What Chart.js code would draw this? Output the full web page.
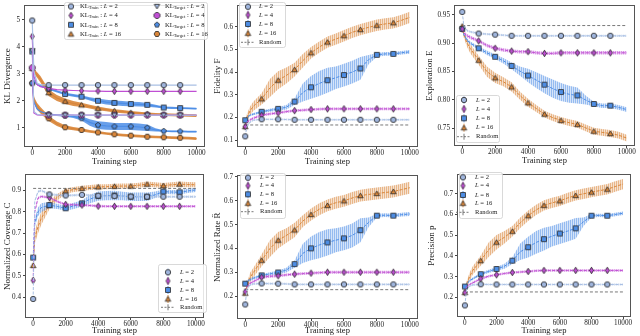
<!DOCTYPE html>
<html>
<head>
<meta charset="utf-8">
<script src="https://cdn.jsdelivr.net/npm/chart.js@4.4.1/dist/chart.umd.min.js"></script>
<style>
  html, body { margin: 0; padding: 0; background: #fff; }
  #wrap { position: relative; width: 640px; height: 336px; overflow: hidden; }
  canvas { position: absolute; }
</style>
</head>
<body>
<div id="wrap"></div>
<script>
const steps = [0, 100, 300, 500, 1000, 1500, 2000, 2500, 3000, 3500, 4000, 4500, 5000, 5500, 6000, 6500, 7000, 7500, 8000, 8500, 9000, 9500, 10000];
const xTicks = [0, 2000, 4000, 6000, 8000, 10000];
const randomSteps = [0, 10000];

// KL divergence
const klTrain2 = [4.97, 3.10, 2.65, 2.60, 2.58, 2.58, 2.58, 2.58, 2.58, 2.58, 2.58, 2.58, 2.58, 2.58, 2.58, 2.58, 2.58, 2.58, 2.58, 2.58, 2.58, 2.58, 2.58];
const klTrain4 = [4.38, 2.90, 2.60, 2.52, 2.46, 2.41, 2.39, 2.38, 2.37, 2.36, 2.36, 2.35, 2.35, 2.35, 2.35, 2.35, 2.35, 2.35, 2.35, 2.35, 2.35, 2.35, 2.35];
const klTrain8 = [3.82, 2.75, 2.60, 2.55, 2.45, 2.35, 2.25, 2.20, 2.15, 2.07, 2.00, 1.95, 1.92, 1.90, 1.88, 1.87, 1.85, 1.80, 1.75, 1.74, 1.73, 1.72, 1.71];
const klTrain16 = [3.20, 3.10, 2.95, 2.80, 2.30, 2.10, 1.98, 1.90, 1.85, 1.78, 1.72, 1.67, 1.63, 1.60, 1.57, 1.54, 1.52, 1.50, 1.49, 1.48, 1.47, 1.46, 1.45];
const klTarget2 = [3.85, 1.60, 1.50, 1.48, 1.47, 1.47, 1.47, 1.47, 1.47, 1.47, 1.47, 1.47, 1.47, 1.47, 1.47, 1.47, 1.47, 1.47, 1.47, 1.47, 1.47, 1.47, 1.47];
const klTarget4 = [3.22, 1.55, 1.48, 1.47, 1.47, 1.47, 1.47, 1.47, 1.47, 1.47, 1.47, 1.47, 1.47, 1.47, 1.47, 1.47, 1.47, 1.47, 1.47, 1.47, 1.47, 1.47, 1.47];
const klTarget8 = [2.65, 1.95, 1.70, 1.60, 1.50, 1.47, 1.45, 1.42, 1.35, 1.20, 1.10, 1.07, 1.05, 1.05, 1.05, 1.03, 1.00, 0.92, 0.88, 0.87, 0.87, 0.86, 0.86];
const klTarget16 = [2.65, 2.05, 1.80, 1.65, 1.35, 1.15, 1.02, 0.97, 0.92, 0.87, 0.83, 0.79, 0.76, 0.73, 0.71, 0.69, 0.67, 0.66, 0.65, 0.64, 0.63, 0.62, 0.60];
const klTrain8Err = [0.02, 0.03, 0.03, 0.03, 0.04, 0.04, 0.05, 0.05, 0.05, 0.06, 0.08, 0.09, 0.09, 0.09, 0.08, 0.08, 0.07, 0.05, 0.04, 0.04, 0.03, 0.03, 0.03];
const klTrain16Err = [0.05, 0.08, 0.10, 0.12, 0.12, 0.11, 0.10, 0.09, 0.08, 0.07, 0.07, 0.06, 0.06, 0.06, 0.05, 0.05, 0.05, 0.05, 0.05, 0.05, 0.05, 0.05, 0.05];
const klTarget8Err = [0.03, 0.04, 0.04, 0.03, 0.03, 0.03, 0.04, 0.06, 0.08, 0.12, 0.14, 0.14, 0.13, 0.13, 0.13, 0.13, 0.12, 0.06, 0.03, 0.03, 0.03, 0.03, 0.03];
const klTarget16Err = [0.05, 0.10, 0.12, 0.12, 0.10, 0.08, 0.07, 0.06, 0.06, 0.05, 0.05, 0.05, 0.05, 0.05, 0.05, 0.05, 0.05, 0.05, 0.05, 0.05, 0.05, 0.05, 0.05];

// Fidelity F
const fid2 = [0.117, 0.160, 0.180, 0.188, 0.192, 0.192, 0.192, 0.191, 0.190, 0.190, 0.190, 0.190, 0.190, 0.190, 0.190, 0.190, 0.190, 0.190, 0.190, 0.190, 0.190, 0.190, 0.190];
const fid4 = [0.160, 0.180, 0.190, 0.197, 0.210, 0.216, 0.220, 0.226, 0.230, 0.232, 0.235, 0.237, 0.238, 0.238, 0.238, 0.238, 0.238, 0.238, 0.238, 0.238, 0.238, 0.238, 0.238];
const fid8 = [0.188, 0.200, 0.210, 0.215, 0.225, 0.232, 0.238, 0.245, 0.270, 0.310, 0.333, 0.350, 0.364, 0.375, 0.387, 0.400, 0.416, 0.455, 0.476, 0.480, 0.480, 0.485, 0.489];
const fid16 = [0.160, 0.200, 0.230, 0.250, 0.282, 0.330, 0.364, 0.385, 0.411, 0.450, 0.485, 0.510, 0.532, 0.545, 0.560, 0.575, 0.587, 0.597, 0.606, 0.612, 0.617, 0.628, 0.641];
const fid8Err = [0.005, 0.005, 0.005, 0.005, 0.006, 0.007, 0.008, 0.010, 0.015, 0.040, 0.050, 0.055, 0.055, 0.050, 0.050, 0.050, 0.050, 0.020, 0.008, 0.008, 0.008, 0.008, 0.008];
const fid16Err = [0.010, 0.015, 0.020, 0.020, 0.025, 0.040, 0.040, 0.035, 0.030, 0.030, 0.025, 0.025, 0.025, 0.025, 0.025, 0.025, 0.025, 0.025, 0.025, 0.025, 0.025, 0.025, 0.025];
const fidRandom = 0.167;

// Exploration E
const exp2 = [0.955, 0.930, 0.922, 0.920, 0.917, 0.916, 0.915, 0.914, 0.913, 0.913, 0.913, 0.913, 0.913, 0.913, 0.913, 0.913, 0.913, 0.913, 0.913, 0.913, 0.913, 0.913, 0.913];
const exp4 = [0.925, 0.918, 0.913, 0.910, 0.904, 0.896, 0.891, 0.888, 0.886, 0.885, 0.885, 0.883, 0.882, 0.882, 0.883, 0.883, 0.883, 0.883, 0.883, 0.883, 0.883, 0.883, 0.883];
const exp8 = [0.925, 0.915, 0.905, 0.900, 0.891, 0.883, 0.876, 0.869, 0.860, 0.851, 0.843, 0.835, 0.827, 0.820, 0.814, 0.810, 0.808, 0.800, 0.793, 0.790, 0.790, 0.787, 0.783];
const exp16 = [0.930, 0.915, 0.900, 0.890, 0.870, 0.850, 0.839, 0.832, 0.823, 0.808, 0.795, 0.785, 0.775, 0.769, 0.764, 0.760, 0.757, 0.751, 0.745, 0.743, 0.741, 0.738, 0.733];
const exp8Err = [0.002, 0.003, 0.003, 0.003, 0.003, 0.004, 0.004, 0.005, 0.006, 0.008, 0.012, 0.014, 0.015, 0.016, 0.016, 0.015, 0.014, 0.008, 0.004, 0.004, 0.004, 0.004, 0.004];
const exp16Err = [0.004, 0.006, 0.007, 0.008, 0.008, 0.009, 0.009, 0.008, 0.008, 0.007, 0.007, 0.006, 0.006, 0.006, 0.006, 0.006, 0.006, 0.006, 0.006, 0.006, 0.006, 0.006, 0.006];
const expRandom = 0.931;

// Normalized coverage C
const cov2 = [0.392, 0.850, 0.895, 0.900, 0.882, 0.879, 0.877, 0.878, 0.880, 0.878, 0.876, 0.875, 0.874, 0.873, 0.872, 0.872, 0.871, 0.871, 0.871, 0.871, 0.871, 0.871, 0.871];
const cov4 = [0.479, 0.800, 0.865, 0.872, 0.867, 0.848, 0.835, 0.833, 0.832, 0.830, 0.827, 0.826, 0.826, 0.826, 0.826, 0.826, 0.826, 0.826, 0.826, 0.826, 0.826, 0.826, 0.826];
const cov8 = [0.586, 0.750, 0.800, 0.820, 0.832, 0.825, 0.817, 0.828, 0.840, 0.860, 0.874, 0.876, 0.877, 0.874, 0.871, 0.871, 0.871, 0.880, 0.895, 0.893, 0.892, 0.898, 0.903];
const cov16 = [0.549, 0.680, 0.730, 0.770, 0.832, 0.870, 0.897, 0.905, 0.910, 0.914, 0.917, 0.918, 0.920, 0.921, 0.921, 0.925, 0.930, 0.927, 0.923, 0.927, 0.930, 0.928, 0.927];
const cov8Err = [0.010, 0.020, 0.020, 0.020, 0.015, 0.012, 0.012, 0.015, 0.015, 0.020, 0.022, 0.022, 0.022, 0.020, 0.020, 0.020, 0.020, 0.015, 0.010, 0.010, 0.010, 0.010, 0.010];
const cov16Err = [0.010, 0.030, 0.030, 0.030, 0.020, 0.015, 0.012, 0.012, 0.012, 0.012, 0.012, 0.012, 0.012, 0.012, 0.012, 0.012, 0.012, 0.012, 0.012, 0.012, 0.012, 0.012, 0.012];
const covRandom = 0.910;

// Normalized rate R
const rate2 = [0.166, 0.230, 0.248, 0.252, 0.254, 0.253, 0.253, 0.252, 0.250, 0.250, 0.250, 0.250, 0.250, 0.250, 0.250, 0.250, 0.250, 0.250, 0.250, 0.250, 0.250, 0.250, 0.250];
const rate4 = [0.219, 0.240, 0.255, 0.262, 0.280, 0.284, 0.286, 0.290, 0.293, 0.295, 0.297, 0.299, 0.301, 0.301, 0.301, 0.301, 0.301, 0.301, 0.301, 0.301, 0.301, 0.301, 0.301];
const rate8 = [0.253, 0.262, 0.270, 0.276, 0.288, 0.294, 0.300, 0.310, 0.335, 0.380, 0.401, 0.415, 0.426, 0.435, 0.443, 0.455, 0.477, 0.510, 0.538, 0.540, 0.538, 0.542, 0.545];
const rate16 = [0.213, 0.240, 0.280, 0.300, 0.351, 0.400, 0.435, 0.455, 0.478, 0.515, 0.543, 0.565, 0.581, 0.592, 0.600, 0.612, 0.622, 0.627, 0.631, 0.635, 0.639, 0.647, 0.655];
const rate8Err = [0.005, 0.006, 0.006, 0.006, 0.006, 0.007, 0.008, 0.010, 0.015, 0.040, 0.050, 0.055, 0.055, 0.050, 0.050, 0.050, 0.050, 0.020, 0.008, 0.008, 0.008, 0.008, 0.008];
const rate16Err = [0.010, 0.015, 0.020, 0.020, 0.025, 0.035, 0.035, 0.030, 0.030, 0.025, 0.025, 0.025, 0.025, 0.025, 0.025, 0.025, 0.025, 0.025, 0.025, 0.025, 0.025, 0.025, 0.025];
const rateRandom = 0.228;

// Precision p
const prec2 = [0.161, 0.235, 0.255, 0.260, 0.263, 0.262, 0.262, 0.262, 0.262, 0.262, 0.262, 0.262, 0.262, 0.262, 0.262, 0.262, 0.262, 0.262, 0.262, 0.262, 0.262, 0.262, 0.262];
const prec4 = [0.223, 0.250, 0.262, 0.270, 0.290, 0.302, 0.309, 0.315, 0.320, 0.322, 0.325, 0.328, 0.330, 0.330, 0.330, 0.330, 0.330, 0.330, 0.330, 0.330, 0.330, 0.330, 0.330];
const prec8 = [0.252, 0.265, 0.280, 0.290, 0.312, 0.325, 0.337, 0.350, 0.377, 0.420, 0.442, 0.465, 0.481, 0.495, 0.508, 0.520, 0.533, 0.565, 0.594, 0.596, 0.594, 0.600, 0.606];
const prec16 = [0.223, 0.260, 0.300, 0.330, 0.377, 0.430, 0.466, 0.490, 0.519, 0.560, 0.594, 0.622, 0.644, 0.656, 0.666, 0.680, 0.692, 0.700, 0.708, 0.715, 0.722, 0.735, 0.747];
const prec8Err = [0.005, 0.006, 0.006, 0.006, 0.007, 0.008, 0.009, 0.012, 0.016, 0.040, 0.050, 0.055, 0.055, 0.050, 0.050, 0.050, 0.050, 0.020, 0.008, 0.008, 0.008, 0.008, 0.008];
const prec16Err = [0.010, 0.015, 0.020, 0.020, 0.025, 0.035, 0.035, 0.030, 0.025, 0.025, 0.025, 0.025, 0.025, 0.025, 0.025, 0.025, 0.025, 0.025, 0.025, 0.025, 0.025, 0.025, 0.025];
const precRandom = 0.226;

const C2 = "#a9c0e4", C4 = "#c04fd4", C8 = "#4e8ee6", C16 = "#d9863a";
const EDGE = "#262626";
const FONT = '"Liberation Serif", "DejaVu Serif", serif';

function makeMarker(shape, fill, size) {
  const d = Math.ceil(size) + 4;
  const c = document.createElement("canvas");
  c.width = d; c.height = d;
  const g = c.getContext("2d");
  const m = d / 2, r = size / 2;
  g.beginPath();
  if (shape === "circle") {
    g.arc(m, m, r, 0, Math.PI * 2);
  } else if (shape === "square") {
    g.rect(m - r * 0.85, m - r * 0.85, r * 1.7, r * 1.7);
  } else if (shape === "tdiamond") {
    g.moveTo(m, m - r); g.lineTo(m + r * 0.6, m); g.lineTo(m, m + r); g.lineTo(m - r * 0.6, m); g.closePath();
  } else {
    const n = { triangle: 3, tridown: 3, pentagon: 5, hexagon: 6, octagon: 8 }[shape];
    const rot = { triangle: -Math.PI / 2, tridown: Math.PI / 2, pentagon: -Math.PI / 2, hexagon: 0, octagon: Math.PI / 8 }[shape];
    for (let k = 0; k < n; k++) {
      const a = rot + k * 2 * Math.PI / n;
      const px = m + r * Math.cos(a), py = m + r * Math.sin(a) + (n === 3 ? (shape === "triangle" ? r * 0.2 : -r * 0.2) : 0);
      if (k === 0) g.moveTo(px, py); else g.lineTo(px, py);
    }
    g.closePath();
  }
  g.fillStyle = fill;
  g.fill();
  g.lineWidth = 0.8;
  g.strokeStyle = EDGE;
  g.stroke();
  return c;
}

const M = {
  circle2: makeMarker("circle", "#9fb5dd", 5.4),
  diamond4: makeMarker("tdiamond", C4, 6.6),
  square8: makeMarker("square", C8, 5.8),
  tri16: makeMarker("triangle", C16, 6.4),
  tridown2: makeMarker("tridown", "#9fb5dd", 6.2),
  oct4: makeMarker("octagon", C4, 6.4),
  pent8: makeMarker("pentagon", C8, 5.4),
  hex16: makeMarker("hexagon", C16, 5.8)
};

function hatch(color, alpha) {
  const c = document.createElement("canvas");
  c.width = 2; c.height = 2;
  const g = c.getContext("2d");
  g.globalAlpha = alpha;
  g.fillStyle = color;
  g.fillRect(0, 0, 1, 2);
  g.globalAlpha = alpha * 0.4;
  g.fillRect(1, 0, 1, 2);
  return g.createPattern(c, "repeat");
}

function hexAlpha(hex, a) {
  const n = parseInt(hex.slice(1), 16);
  return `rgba(${(n >> 16) & 255},${(n >> 8) & 255},${n & 255},${a})`;
}

function isMarkerStep(ctx) {
  const s = steps[ctx.dataIndex];
  return s % 1000 === 0 && s < 10000;
}

function bandSets(vals, err, bg) {
  const e = (i) => (Array.isArray(err) ? err[i] : err);
  return [
    { data: steps.map((s, i) => ({ x: s, y: vals[i] + e(i) })), borderWidth: 0, pointRadius: 0, fill: "+1", backgroundColor: bg, order: 5 },
    { data: steps.map((s, i) => ({ x: s, y: vals[i] - e(i) })), borderWidth: 0, pointRadius: 0, fill: false, order: 5 }
  ];
}

function lineSet(vals, color, marker, dash, width) {
  return {
    data: steps.map((s, i) => ({ x: s, y: vals[i] })),
    borderColor: color,
    borderWidth: width,
    borderDash: dash,
    pointStyle: marker,
    pointRadius: (ctx) => (isMarkerStep(ctx) ? 3 : 0),
    fill: false,
    order: 1
  };
}

function randomSet(value) {
  return {
    data: randomSteps.map((s) => ({ x: s, y: value })),
    borderColor: "#6a6a6a", borderWidth: 0.9, borderDash: [3, 2],
    pointRadius: 0, fill: false, order: 2
  };
}

function textRun(ctx, x, y, parts) {
  for (const [kind, str] of parts) {
    if (kind === "sub") {
      ctx.font = `4.6px ${FONT}`;
      ctx.fillText(str, x, y + 1.6);
    } else {
      ctx.font = `${kind === "italic" ? "italic " : ""}6.6px ${FONT}`;
      ctx.fillText(str, x, y);
    }
    x += ctx.measureText(str).width;
  }
}

function drawLegend(ctx, lg, ox, oy) {
  const [bx, by, bw, bh] = lg.box;
  ctx.save();
  ctx.beginPath();
  ctx.roundRect(bx - ox + 0.5, by - oy + 0.5, bw, bh, 2);
  ctx.fillStyle = "rgba(255,255,255,0.85)";
  ctx.fill();
  ctx.strokeStyle = "#cfcfcf";
  ctx.lineWidth = 0.8;
  ctx.stroke();
  ctx.textBaseline = "middle";
  ctx.fillStyle = "#222";
  for (const item of lg.items) {
    const mx = item.mx - ox, y = item.y - oy;
    if (item.random) {
      ctx.strokeStyle = "#6a6a6a";
      ctx.lineWidth = 0.9;
      ctx.setLineDash([2, 1.5]);
      ctx.beginPath(); ctx.moveTo(mx - 7, y); ctx.lineTo(mx + 7, y); ctx.stroke();
      ctx.setLineDash([]);
      ctx.beginPath(); ctx.moveTo(mx, y - 3); ctx.lineTo(mx, y + 3); ctx.stroke();
    } else {
      if (item.bar) {
        ctx.strokeStyle = item.bar;
        ctx.lineWidth = 0.9;
        ctx.beginPath(); ctx.moveTo(mx, y - 4); ctx.lineTo(mx, y + 4); ctx.stroke();
      }
      ctx.drawImage(item.marker, mx - item.marker.width / 2, y - item.marker.height / 2);
    }
    ctx.fillStyle = "#222";
    textRun(ctx, item.tx - ox, y, item.text);
  }
  ctx.restore();
}

function overlay(key, legend, ox, oy) {
  return {
    id: "overlay_" + key,
    afterDraw(chart) {
      const a = chart.chartArea;
      const ctx = chart.ctx;
      ctx.save();
      ctx.strokeStyle = "#555";
      ctx.lineWidth = 1;
      ctx.strokeRect(Math.round(a.left) + 0.5, Math.round(a.top) + 0.5, Math.round(a.right - a.left) - 1, Math.round(a.bottom - a.top) - 1);
      ctx.restore();
      drawLegend(ctx, legend, ox, oy);
    }
  };
}

function lText(n) { return [["italic", "L"], ["normal", " = " + n]]; }
function klText(kind, n) { return [["normal", "KL"], ["sub", kind], ["normal", " : "], ["italic", "L"], ["normal", " = " + n]]; }

function stdLegend(box, mx, tx, rows) {
  const marks = [M.circle2, M.diamond4, M.square8, M.tri16];
  const bars = [C2, C4, C8, C16];
  const items = ["2", "4", "8", "16"].map((n, i) => ({ mx, tx, y: rows[i], marker: marks[i], bar: bars[i], text: lText(n) }));
  items.push({ mx, tx, y: rows[4], random: true, text: [["normal", "Random"]] });
  return { box, items };
}

const DASH = [3, 1.5];
const panels = [
  {
    key: "kl", area: [24, 1, 208, 147], left: 0, xh: 20, titleX: 8,
    title: "KL Divergence", yMin: 0.29, yMax: 5.53, yTicks: [1, 2, 3, 4, 5], dec: 0,
    datasets: [
      ...bandSets(klTrain16, klTrain16Err, hexAlpha(C16, 0.9)),
      ...bandSets(klTarget16, klTarget16Err, hexAlpha(C16, 0.9)),
      ...bandSets(klTrain8, klTrain8Err, hexAlpha(C8, 0.85)),
      ...bandSets(klTarget8, klTarget8Err, hexAlpha(C8, 0.85)),
      lineSet(klTrain2, C2, M.circle2, [], 1.2),
      lineSet(klTrain4, C4, M.diamond4, [], 1.2),
      lineSet(klTarget2, C2, M.tridown2, [], 1.2),
      lineSet(klTarget4, C4, M.oct4, [], 1.2),
      lineSet(klTrain8, C8, M.square8, [], 1.2),
      lineSet(klTarget8, C8, M.pent8, [], 1.2),
      lineSet(klTrain16, C16, M.tri16, [], 1.2),
      lineSet(klTarget16, C16, M.hex16, [], 1.2)
    ],
    legend: {
      box: [64, 2, 143, 37],
      items: [
        { mx: 71, tx: 80, y: 6.5, marker: M.circle2, text: klText("Train", "2") },
        { mx: 71, tx: 80, y: 15.5, marker: M.diamond4, text: klText("Train", "4") },
        { mx: 71, tx: 80, y: 24.8, marker: M.square8, text: klText("Train", "8") },
        { mx: 71, tx: 80, y: 34, marker: M.tri16, text: klText("Train", "16") },
        { mx: 157, tx: 165, y: 6.5, marker: M.tridown2, text: klText("Target", "2") },
        { mx: 157, tx: 165, y: 15.5, marker: M.oct4, text: klText("Target", "4") },
        { mx: 157, tx: 165, y: 24.8, marker: M.pent8, text: klText("Target", "8") },
        { mx: 157, tx: 165, y: 34, marker: M.hex16, text: klText("Target", "16") }
      ]
    }
  },
  {
    key: "fid", area: [237, 1, 421, 147], left: 212, xh: 20, titleX: 217.5,
    title: "Fidelity F", yMin: 0.07, yMax: 0.694, yTicks: [0.1, 0.2, 0.3, 0.4, 0.5, 0.6], dec: 1,
    random: fidRandom,
    series: [[fid2, 0.004], [fid4, 0.006], [fid8, fid8Err], [fid16, fid16Err]],
    legend: stdLegend([239, 2, 46, 45], 248, 259, [6.7, 15, 24, 33.3, 42.3])
  },
  {
    key: "exp", area: [454, 1, 638, 146], left: 425, xh: 20, titleX: 429.5,
    title: "Exploration E", yMin: 0.719, yMax: 0.9666, yTicks: [0.75, 0.80, 0.85, 0.90, 0.95], dec: 2,
    random: expRandom,
    series: [[exp2, 0.002], [exp4, 0.003], [exp8, exp8Err], [exp16, exp16Err]],
    legend: stdLegend([456, 95, 43, 47], 464, 476, [100, 109, 118.3, 127.7, 136.7])
  },
  {
    key: "cov", area: [25, 170, 207, 318], left: 0, xh: 18, titleX: 8,
    title: "Normalized Coverage C", yMin: 0.303, yMax: 0.976, yTicks: [0.4, 0.5, 0.6, 0.7, 0.8, 0.9], dec: 1,
    random: covRandom,
    series: [[cov2, 0.006], [cov4, 0.006], [cov8, cov8Err], [cov16, cov16Err]],
    legend: stdLegend([158, 264, 48, 48], 168, 180, [272.3, 281, 290, 299, 307.3])
  },
  {
    key: "rate", area: [237, 171, 421, 319], left: 212, xh: 17, titleX: 217.5,
    title: "Normalized Rate R\u0302", yMin: 0.105, yMax: 0.707, yTicks: [0.2, 0.3, 0.4, 0.5, 0.6, 0.7], dec: 1,
    random: rateRandom,
    series: [[rate2, 0.005], [rate4, 0.006], [rate8, rate8Err], [rate16, rate16Err]],
    legend: stdLegend([240, 173, 45, 45], 248, 260, [177.7, 185.7, 194.3, 203.3, 211.7])
  },
  {
    key: "prec", area: [457, 170, 634, 317], left: 426, xh: 19, titleX: 432,
    title: "Precision p", yMin: 0.105, yMax: 0.794, yTicks: [0.2, 0.3, 0.4, 0.5, 0.6, 0.7], dec: 1,
    random: precRandom,
    series: [[prec2, 0.005], [prec4, 0.006], [prec8, prec8Err], [prec16, prec16Err]],
    legend: stdLegend([459, 172, 43, 46], 463, 475, [177.3, 185.7, 195, 203.3, 212.3])
  }
];

function stdDatasets(p) {
  const colors = [C2, C4, C8, C16];
  const marks = [M.circle2, M.diamond4, M.square8, M.tri16];
  const sets = [];
  p.series.forEach(([vals, err], i) => sets.push(...bandSets(vals, err, hatch(colors[i], 0.6))));
  sets.push(randomSet(p.random));
  p.series.forEach(([vals], i) => sets.push(lineSet(vals, colors[i], marks[i], DASH, 1)));
  return sets;
}

const wrap = document.getElementById("wrap");
for (const p of panels) {
  const [l, t, r, b] = p.area;
  const top = t - 2;
  const width = r + 2 - p.left;
  const height = b + p.xh - top;
  const yw = l - p.left;
  const canvas = document.createElement("canvas");
  canvas.width = width; canvas.height = height;
  canvas.style.left = p.left + "px"; canvas.style.top = top + "px";
  canvas.style.width = width + "px"; canvas.style.height = height + "px";
  wrap.appendChild(canvas);

  const tickFont = { family: FONT, size: 7.2 };
  const xTitleFont = { family: FONT, size: 8.5 };
  const yTitleFont = { family: FONT, size: 9 };
  new Chart(canvas.getContext("2d"), {
    type: "line",
    data: { datasets: p.datasets || stdDatasets(p) },
    options: {
      responsive: false,
      animation: false,
      events: [],
      layout: { padding: { left: 0, top: 2, right: 2, bottom: 0 } },
      plugins: { legend: { display: false }, tooltip: { enabled: false } },
      elements: { line: { tension: 0 } },
      scales: {
        x: {
          type: "linear", min: -500, max: 10500,
          afterBuildTicks: (s) => { s.ticks = xTicks.map((v) => ({ value: v })); },
          afterFit: (s) => { s.height = p.xh; },
          ticks: { font: tickFont, color: "#222", padding: 0, maxRotation: 0, callback: (v) => String(v) },
          grid: { drawOnChartArea: false, drawTicks: true, tickLength: 2, color: "#444" },
          border: { display: false },
          title: { display: true, text: "Training step", font: xTitleFont, color: "#222", padding: { top: 0, bottom: 0 } }
        },
        y: {
          type: "linear", min: p.yMin, max: p.yMax,
          afterBuildTicks: (s) => { s.ticks = p.yTicks.map((v) => ({ value: v })); },
          afterFit: (s) => { s.width = yw; },
          ticks: { font: tickFont, color: "#222", padding: 2, callback: (v) => Number(v).toFixed(p.dec) },
          grid: { drawOnChartArea: false, drawTicks: true, tickLength: 2, color: "#444" },
          border: { display: false },
          title: { display: true, text: p.title, font: yTitleFont, color: "#222", padding: { top: p.titleX - p.left - 5.4, bottom: 0 } }
        }
      }
    },
    plugins: [overlay(p.key, p.legend, p.left, top)]
  });
}
</script>
</body>
</html>
